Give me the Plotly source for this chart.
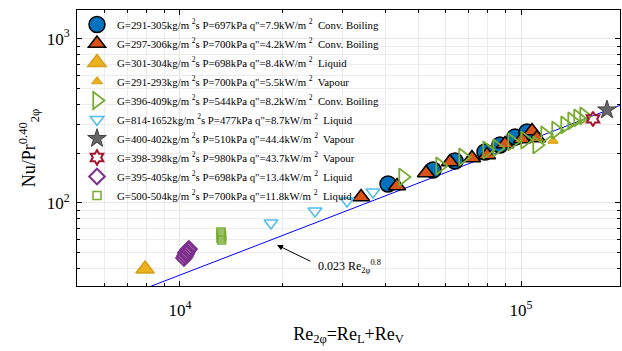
import plotly.graph_objects as go

# ---------------- data ----------------
circ_x = [40740, 55200, 64040, 78420, 86790, 96030, 104130]
circ_y = [130.5, 158.7, 180.1, 204.3, 225.4, 252.1, 270.3]

brown_x = [33960, 43290, 52660, 61910, 71820, 79490, 89780, 100670, 107720, 111410]
brown_y = [108.8, 126.9, 152.2, 177.6, 187.8, 195.9, 228.6, 245.1, 274.2, 248.6]

ybig_x = [7900]
ybig_y = [39.7]

ysmall_x = [124130]
ysmall_y = [238.3]

green_x = [45080, 57870, 67580, 79490, 85050, 94100, 102730, 111410, 117600,
           126650, 134590, 141130, 146960, 153030]
green_y = [143.9, 167.9, 190.5, 210.1, 216.1, 235.0, 241.6, 225.4, 259.3,
           277.9, 298.4, 315.6, 328.9, 338.3]

lblue_x = [18488, 24880, 30890, 36810]
lblue_y = [75.6, 89.4, 102.8, 116.7]

star_x = [178700]
star_y = [368.0]

hexa_x = [162600]
hexa_y = [324.3]

diam_x = [10273, 10344, 10413, 10484, 10556, 10627, 10413]
diam_y = [46.3, 47.6, 49.0, 50.4, 51.8, 52.5, 50.0]

sq_x = [13191, 13191, 13250, 13191, 13250]
sq_y = [66.6, 64.8, 63.0, 61.3, 59.6]

names = [
    'G=291-305kg/m <sup>2</sup>s P=697kPa q"=7.9kW/m <sup>2</sup>  Conv. Boiling',
    'G=297-306kg/m <sup>2</sup>s P=700kPa q"=4.2kW/m <sup>2</sup>  Conv. Boiling',
    'G=301-304kg/m <sup>2</sup>s P=698kPa q"=8.4kW/m <sup>2</sup>  Liquid',
    'G=291-293kg/m <sup>2</sup>s P=700kPa q"=5.5kW/m <sup>2</sup>  Vapour',
    'G=396-409kg/m <sup>2</sup>s P=544kPa q"=8.2kW/m <sup>2</sup>  Conv. Boiling',
    'G=814-1652kg/m <sup>2</sup>s P=477kPa q"=8.7kW/m <sup>2</sup>  Liquid',
    'G=400-402kg/m <sup>2</sup>s P=510kPa q"=44.4kW/m <sup>2</sup>  Vapour',
    'G=398-398kg/m <sup>2</sup>s P=980kPa q"=43.7kW/m <sup>2</sup>  Vapour',
    'G=395-405kg/m <sup>2</sup>s P=698kPa q"=13.4kW/m <sup>2</sup>  Liquid',
    'G=500-504kg/m <sup>2</sup>s P=700kPa q"=11.8kW/m <sup>2</sup>  Liquid',
]

# correlation line 0.023 Re^0.8
corr_coef = 0.023
corr_exp = 0.8
line_x = [5000, 7900, 20000, 50000, 100000, 200000]
line_y = [corr_coef * v ** corr_exp for v in line_x]

x_tickvals = [1e4, 1e5]
x_ticktext = ['10<sup>4</sup>', '10<sup>5</sup>']
x_minor = [6000, 7000, 8000, 9000, 20000, 30000, 40000, 50000, 60000,
           70000, 80000, 90000, 200000]
y_tickvals = [100, 1000]
y_ticktext = ['10<sup>2</sup>', '10<sup>3</sup>']
y_minor = [40, 50, 60, 70, 80, 90, 200, 300, 400, 500, 600, 700, 800, 900]

FONT = 'Liberation Serif, Times New Roman, serif'

fig = go.Figure()

fig.add_trace(go.Scatter(x=line_x, y=line_y, mode='lines',
                         line=dict(color='#0000FF', width=1), showlegend=False,
                         hoverinfo='skip'))

specs = [
    (circ_x, circ_y, dict(symbol='circle', size=16, color='#0072BD', line=dict(color='black', width=1.5))),
    (brown_x, brown_y, dict(symbol='triangle-up', size=15, color='#D95319', line=dict(color='black', width=1.5))),
    (ybig_x, ybig_y, dict(symbol='triangle-up', size=16, color='#EDB120', line=dict(color='#D4A017', width=1.5))),
    (ysmall_x, ysmall_y, dict(symbol='triangle-up', size=9, color='#EDB120', line=dict(color='#D4A017', width=1.2))),
    (green_x, green_y, dict(symbol='triangle-right-open', size=15, color='#77AC30', line=dict(color='#77AC30', width=1.8))),
    (lblue_x, lblue_y, dict(symbol='triangle-down-open', size=12, color='#4DBEEE', line=dict(color='#4DBEEE', width=1.5))),
    (star_x, star_y, dict(symbol='star', size=14, color='#666666', line=dict(color='#404040', width=1))),
    (hexa_x, hexa_y, dict(symbol='hexagram-open', size=11, color='#A2142F', line=dict(color='#A2142F', width=2))),
    (diam_x, diam_y, dict(symbol='diamond-open', size=12, color='#7E2F8E', line=dict(color='#7E2F8E', width=2))),
    (sq_x, sq_y, dict(symbol='square-open', size=8, color='#77AC30', line=dict(color='#77AC30', width=1.5))),
]

for (xs, ys, mk), nm in zip(specs, names):
    fig.add_trace(go.Scatter(x=xs, y=ys, mode='markers', name=nm, marker=mk))

axis_common = dict(
    type='log', showline=True, linecolor='black', linewidth=1, mirror='allticks',
    ticks='inside', ticklen=5, tickcolor='black', tickwidth=1,
    showgrid=True, gridcolor='#e6e6e6', gridwidth=1, zeroline=False,
    tickfont=dict(family=FONT, size=17, color='black'),
)

fig.update_xaxes(
    **axis_common, range=[3.698, 5.2903], tickmode='array',
    tickvals=x_tickvals, ticktext=x_ticktext, ticklabelstandoff=9,
    minor=dict(tickmode='array', tickvals=x_minor, ticks='inside', ticklen=3,
               tickcolor='black', showgrid=True, gridcolor='#ececec'),
    title=dict(text='Re<sub>2φ</sub>=Re<sub>L</sub>+Re<sub>V</sub>',
               font=dict(family=FONT, size=18, color='black'), standoff=7),
)
fig.update_yaxes(
    **axis_common, range=[1.4951, 3.1739], tickmode='array',
    tickvals=y_tickvals, ticktext=y_ticktext, ticklabelstandoff=3,
    minor=dict(tickmode='array', tickvals=y_minor, ticks='inside', ticklen=3,
               tickcolor='black', showgrid=True, gridcolor='#ececec'),
    title=dict(text='Nu/Pr<sup>0.40</sup><sub>2φ</sub>',
               font=dict(family=FONT, size=18, color='black'), standoff=6),
)

# correlation label and arrow
fig.add_annotation(x=4.3988, y=1.6107, xref='x', yref='y',
                   text='0.023 Re<sub>2φ</sub><sup>0.8</sup>', showarrow=False,
                   xanchor='left', yanchor='middle',
                   font=dict(family=FONT, size=12, color='black'))
fig.add_annotation(x=4.2845, y=1.7445, xref='x', yref='y', text='',
                   showarrow=True, ax=35, ay=17, arrowhead=2, arrowsize=1.2,
                   arrowwidth=1, arrowcolor='black')

fig.update_layout(
    width=622, height=351,
    margin=dict(l=77, r=2, t=10, b=65),
    paper_bgcolor='white', plot_bgcolor='white',
    font=dict(family=FONT, color='black'),
    legend=dict(x=0.0, y=1.0, xanchor='left', yanchor='top',
                bgcolor='rgba(0,0,0,0)', borderwidth=0,
                font=dict(family=FONT, size=10.8, color='black'),
                itemsizing='trace', tracegroupgap=0),
)

fig.write_html('out.html', config={'displayModeBar': False},
               post_script="document.body.style.margin='0';document.body.style.padding='0';")
